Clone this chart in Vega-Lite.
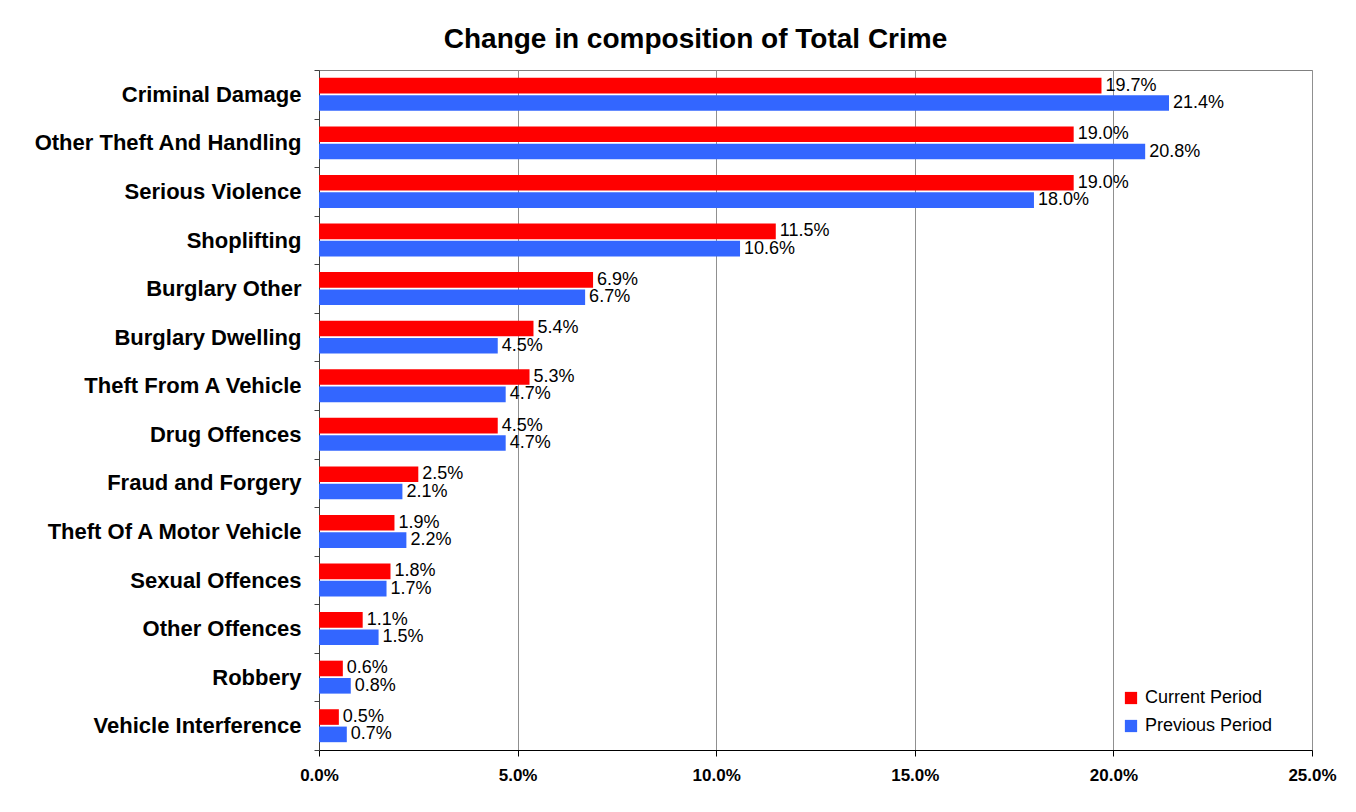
{
  "$schema": "https://vega.github.io/schema/vega-lite/v6.json",
  "width": 993,
  "height": 680,
  "autosize": {"type": "none"},
  "padding": {"left": 319, "top": 70, "right": 44, "bottom": 62},
  "background": "white",
  "title": {
    "text": "Change in composition of Total Crime",
    "fontSize": 28,
    "font": "Liberation Sans",
    "fontWeight": "bold",
    "color": "black",
    "anchor": "middle",
    "dx": -120,
    "offset": 5
  },
  "config": {
    "view": {"stroke": "#808080", "strokeWidth": 1},
    "font": "Liberation Sans"
  },
  "data": {
    "values": [
      {"category": "Criminal Damage", "period": "Current Period", "value": 0.197},
      {"category": "Criminal Damage", "period": "Previous Period", "value": 0.214},
      {"category": "Other Theft And Handling", "period": "Current Period", "value": 0.190},
      {"category": "Other Theft And Handling", "period": "Previous Period", "value": 0.208},
      {"category": "Serious Violence", "period": "Current Period", "value": 0.190},
      {"category": "Serious Violence", "period": "Previous Period", "value": 0.180},
      {"category": "Shoplifting", "period": "Current Period", "value": 0.115},
      {"category": "Shoplifting", "period": "Previous Period", "value": 0.106},
      {"category": "Burglary Other", "period": "Current Period", "value": 0.069},
      {"category": "Burglary Other", "period": "Previous Period", "value": 0.067},
      {"category": "Burglary Dwelling", "period": "Current Period", "value": 0.054},
      {"category": "Burglary Dwelling", "period": "Previous Period", "value": 0.045},
      {"category": "Theft From A Vehicle", "period": "Current Period", "value": 0.053},
      {"category": "Theft From A Vehicle", "period": "Previous Period", "value": 0.047},
      {"category": "Drug Offences", "period": "Current Period", "value": 0.045},
      {"category": "Drug Offences", "period": "Previous Period", "value": 0.047},
      {"category": "Fraud and Forgery", "period": "Current Period", "value": 0.025},
      {"category": "Fraud and Forgery", "period": "Previous Period", "value": 0.021},
      {"category": "Theft Of A Motor Vehicle", "period": "Current Period", "value": 0.019},
      {"category": "Theft Of A Motor Vehicle", "period": "Previous Period", "value": 0.022},
      {"category": "Sexual Offences", "period": "Current Period", "value": 0.018},
      {"category": "Sexual Offences", "period": "Previous Period", "value": 0.017},
      {"category": "Other Offences", "period": "Current Period", "value": 0.011},
      {"category": "Other Offences", "period": "Previous Period", "value": 0.015},
      {"category": "Robbery", "period": "Current Period", "value": 0.006},
      {"category": "Robbery", "period": "Previous Period", "value": 0.008},
      {"category": "Vehicle Interference", "period": "Current Period", "value": 0.005},
      {"category": "Vehicle Interference", "period": "Previous Period", "value": 0.007}
    ]
  },
  "encoding": {
    "y": {
      "field": "category",
      "type": "nominal",
      "sort": null,
      "title": null,
      "scale": {"paddingInner": 0, "paddingOuter": 0},
      "axis": {
        "labelFontSize": 22,
        "labelFontWeight": "bold",
        "labelColor": "black",
        "labelPadding": 13,
        "tickBand": "extent",
        "tickSize": 5,
        "tickColor": "#404040",
        "domainColor": "#404040",
        "labelLimit": 400
      }
    },
    "yOffset": {
      "field": "period",
      "type": "nominal",
      "sort": ["Current Period", "Previous Period"],
      "scale": {"paddingInner": 0.1, "paddingOuter": 0.45}
    },
    "x": {
      "field": "value",
      "type": "quantitative",
      "title": null,
      "scale": {"domain": [0, 0.25], "nice": false},
      "axis": {
        "format": ".1%",
        "values": [0, 0.05, 0.1, 0.15, 0.2, 0.25],
        "labelFontSize": 17,
        "labelFontWeight": "bold",
        "labelColor": "black",
        "labelFlush": false,
        "labelPadding": 11,
        "tickSize": 6,
        "tickColor": "black",
        "domainColor": "black",
        "grid": true,
        "gridColor": "#909090",
        "gridWidth": 1
      }
    }
  },
  "layer": [
    {
      "mark": {"type": "bar"},
      "encoding": {
        "color": {
          "field": "period",
          "type": "nominal",
          "scale": {"domain": ["Current Period", "Previous Period"], "range": ["#FF0000", "#3366FF"]},
          "legend": {
            "title": null,
            "orient": "none",
            "legendX": 803,
            "legendY": 619,
            "symbolType": "square",
            "symbolSize": 150,
            "symbolStrokeWidth": 0,
            "labelFontSize": 18,
            "labelColor": "black",
            "rowPadding": 10,
            "labelOffset": 5
          }
        }
      }
    },
    {
      "mark": {"type": "text", "align": "left", "baseline": "middle", "dx": 4, "fontSize": 18, "color": "black"},
      "encoding": {
        "text": {"field": "value", "type": "quantitative", "format": ".1%"}
      }
    }
  ]
}
